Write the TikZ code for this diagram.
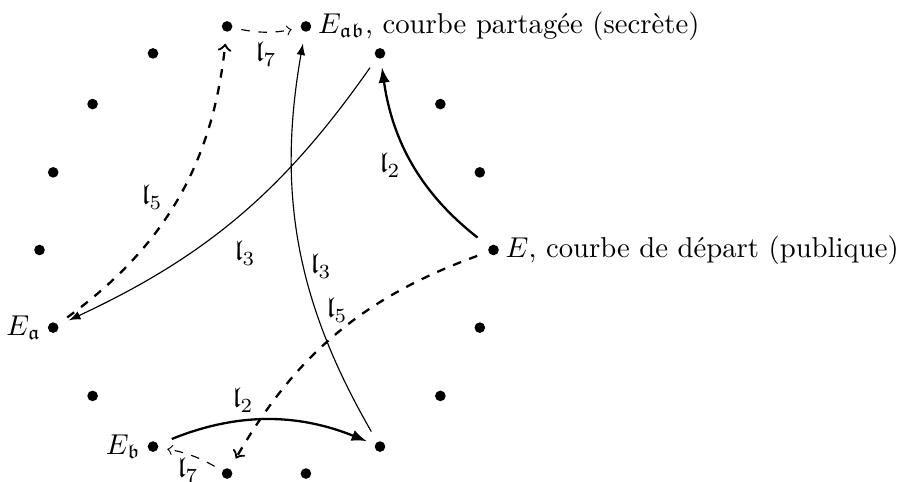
\documentclass[tikz,border=0pt]{standalone}
\usepackage{amssymb}
\usetikzlibrary{calc}
\begin{document}
\begin{tikzpicture}[x=0.3484pt,y=0.3484pt,
  dot/.style={circle,fill,inner sep=0pt,minimum size=3.7pt},
  lab/.style={inner sep=1pt},
  thickarr/.style={-latex, thick, shorten >=3pt, shorten <=5pt},
  thinarr/.style={-latex, shorten >=4pt, shorten <=4pt},
  dasharr/.style={->, thick, dashed, shorten >=4pt, shorten <=4pt},
  dashthin/.style={->, dashed, shorten >=3pt, shorten <=3pt}]
\useasboundingbox (0,0) rectangle (898,482);
\coordinate (c) at (266.5,232);
\foreach \k in {0,...,17} \node[dot] (p\k) at ($(c)+(\k*20:227)$) {};
% curve names
\node[anchor=west, inner sep=2pt] (tE) at (p0.east) {$E$, courbe de départ (publique)};
\node[anchor=west, inner sep=2pt] (tEab) at (p4.east) {$E_{\mathfrak{ab}}$, courbe partagée (secrète)};
\node[anchor=east, inner sep=2pt] (tEa) at (p10.west) {$E_{\mathfrak{a}}$};
\node[anchor=east, inner sep=2pt] (tEb) at (p12.west) {$E_{\mathfrak{b}}$};
% isogenies
\draw[thickarr] (p0) to[bend left=22] (p3);
\draw[thickarr] (p12) to[bend left=22] (p15);
\draw[thinarr] (p3) to[bend left=15] (p10);
\draw[thinarr] (p15) to[bend left=20] (p4);
\draw[dasharr] (p10) to[bend right=24] (p5);
\draw[dasharr] (p0) to[bend right=20] (p13);
\draw[dashthin] (p5) to[bend right=12] (p4);
\draw[dashthin] (p13) to[bend right=10] (p12);
% labels
\node[lab] (l2a) at (390,317) {$\mathfrak{l}_2$};
\node[lab] (l2b) at (243,82) {$\mathfrak{l}_2$};
\node[lab] (l3a) at (245,229) {$\mathfrak{l}_3$};
\node[lab] (l3b) at (321,216) {$\mathfrak{l}_3$};
\node[lab] (l5a) at (152,285) {$\mathfrak{l}_5$};
\node[lab] (l5b) at (337,172) {$\mathfrak{l}_5$};
\node[lab] (l7a) at (266,428) {$\mathfrak{l}_7$};
\node[lab] (l7b) at (188,12) {$\mathfrak{l}_7$};
\end{tikzpicture}
\end{document}
